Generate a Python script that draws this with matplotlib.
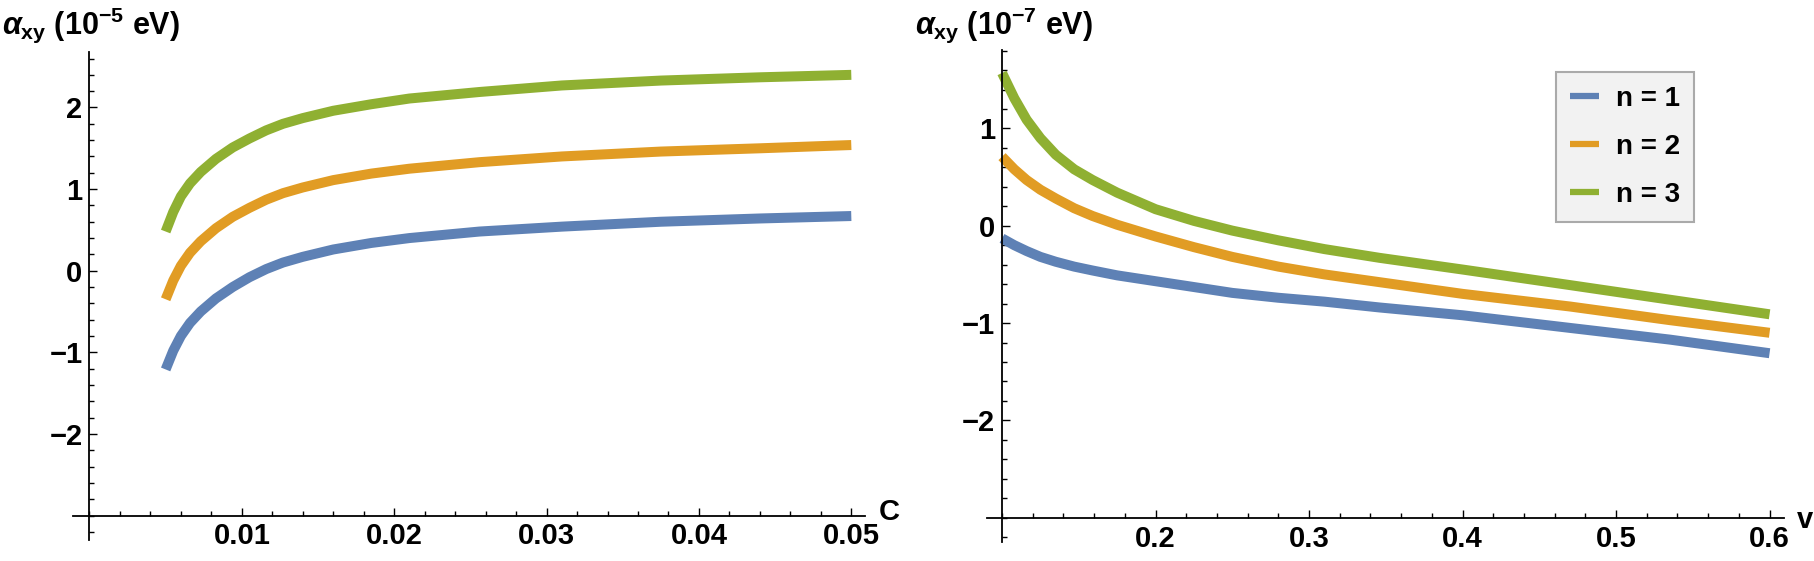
import matplotlib.pyplot as plt
from matplotlib.ticker import MultipleLocator, FixedLocator
from matplotlib.lines import Line2D

plt.rcParams['font.family'] = ['Liberation Sans', 'DejaVu Sans']
plt.rcParams['font.weight'] = 'bold'
plt.rcParams['mathtext.fontset'] = 'custom'
plt.rcParams['mathtext.rm'] = 'Liberation Sans:bold'
plt.rcParams['mathtext.it'] = 'Liberation Sans:italic:bold'
plt.rcParams['mathtext.bf'] = 'Liberation Sans:bold'

# left panel: alpha_xy (1e-5 eV) vs C
c_vals = [0.005, 0.0055, 0.006, 0.0066, 0.0073, 0.0083, 0.0094, 0.0105, 0.0116, 0.0127,
          0.014, 0.016, 0.0185, 0.021, 0.0256, 0.031, 0.0375, 0.044, 0.05]
left_n1 = [-1.21, -0.98, -0.80, -0.64, -0.50, -0.34, -0.20, -0.08, 0.02, 0.10,
           0.17, 0.26, 0.34, 0.40, 0.48, 0.54, 0.60, 0.64, 0.67]
left_n2 = [-0.35, -0.12, 0.06, 0.22, 0.36, 0.52, 0.66, 0.77, 0.87, 0.95,
           1.02, 1.11, 1.19, 1.25, 1.33, 1.40, 1.46, 1.50, 1.54]
left_n3 = [0.48, 0.72, 0.91, 1.07, 1.21, 1.37, 1.51, 1.62, 1.72, 1.80,
           1.87, 1.96, 2.04, 2.11, 2.19, 2.27, 2.33, 2.37, 2.40]

# right panel: alpha_xy (1e-7 eV) vs v
v_vals = [0.1, 0.108, 0.116, 0.125, 0.135, 0.147, 0.159, 0.175, 0.2, 0.225,
          0.25, 0.28, 0.31, 0.346, 0.4, 0.47, 0.535, 0.6]
right_n1 = [-0.13, -0.20, -0.26, -0.32, -0.37, -0.42, -0.46, -0.51, -0.57, -0.63,
            -0.69, -0.74, -0.78, -0.84, -0.92, -1.05, -1.17, -1.31]
right_n2 = [0.71, 0.58, 0.47, 0.37, 0.28, 0.18, 0.10, 0.01, -0.11, -0.22,
            -0.32, -0.42, -0.50, -0.58, -0.70, -0.83, -0.97, -1.10]
right_n3 = [1.57, 1.31, 1.09, 0.90, 0.73, 0.58, 0.47, 0.34, 0.17, 0.05,
            -0.05, -0.15, -0.24, -0.33, -0.45, -0.61, -0.76, -0.91]

labels = ['n = 1', 'n = 2', 'n = 3']
colors = ['#5E81B5', '#E19C24', '#8FB032']

left_xticks = [0.01, 0.02, 0.03, 0.04, 0.05]
right_xticks = [0.2, 0.3, 0.4, 0.5, 0.6]
left_yticks = [-2, -1, 0, 1, 2]
right_yticks = [-2, -1, 0, 1]


def fmt(v):
    s = ('%g' % v)
    return s.replace('-', '\u2212')


def style(ax, x0, xticks, xminor, yticks):
    for s in ['top', 'right']:
        ax.spines[s].set_visible(False)
    ax.spines['left'].set_position(('data', x0))
    ax.spines['bottom'].set_position(('data', -3))
    for s in ['left', 'bottom']:
        ax.spines[s].set_linewidth(1.3)
    ax.xaxis.set_major_locator(FixedLocator(xticks))
    ax.set_xticklabels([fmt(t) for t in xticks])
    ax.xaxis.set_minor_locator(MultipleLocator(xminor))
    ax.yaxis.set_major_locator(FixedLocator(yticks))
    ax.set_yticklabels([fmt(t) for t in yticks])
    ax.yaxis.set_minor_locator(MultipleLocator(0.2))
    ax.tick_params(which='both', direction='in', labelsize=21, width=1.0)
    ax.tick_params(which='major', length=6)
    ax.tick_params(which='minor', length=3.5)
    ax.tick_params(axis='x', which='major', pad=5)
    ax.tick_params(axis='y', which='major', pad=5)
    ax.patch.set_alpha(0)


fig = plt.figure(figsize=(18.15, 5.61), dpi=100)

ax1 = fig.add_axes([73 / 1815, 1 - 540 / 561, 792 / 1815, 488 / 561])
for ys, col in zip([left_n1, left_n2, left_n3], colors):
    ax1.plot(c_vals, ys, color=col, linewidth=7.2, solid_capstyle='butt', solid_joinstyle='round')
ax1.set_xlim(-0.00108, 0.0509)
ax1.set_ylim(-3.30, 2.68)
style(ax1, 0, left_xticks, 0.002, left_yticks)

ax2 = fig.add_axes([987 / 1815, 1 - 542 / 561, 797 / 1815, 492 / 561])
for ys, col in zip([right_n1, right_n2, right_n3], colors):
    ax2.plot(v_vals, ys, color=col, linewidth=7.2, solid_capstyle='butt', solid_joinstyle='round')
ax2.set_xlim(0.0902, 0.6094)
ax2.set_ylim(-3.25, 1.806)
style(ax2, 0.1, right_xticks, 0.02, right_yticks)

# axis names
fig.text(2 / 1815, 1 - 25 / 561, r'$\alpha_{\mathrm{xy}}$ (10$^{\mathrm{-5}}$ eV)', fontsize=22,
         ha='left', va='center')
fig.text(915 / 1815, 1 - 25 / 561, r'$\alpha_{\mathrm{xy}}$ (10$^{\mathrm{-7}}$ eV)', fontsize=22,
         ha='left', va='center')
fig.text(879 / 1815, 1 - 512 / 561, 'C', fontsize=21, ha='left', va='center')
fig.text(1797 / 1815, 1 - 520 / 561, 'v', fontsize=21, ha='left', va='center')

handles = [Line2D([], [], color=c, linewidth=4.5, solid_capstyle='butt') for c in colors]
leg = ax2.legend(handles, labels, loc='upper left', bbox_to_anchor=(1556 / 1815, 1 - 71.7 / 561),
                 bbox_transform=fig.transFigure, fontsize=20, frameon=True, fancybox=False,
                 edgecolor='#aaaaaa', facecolor='#f2f2f2', framealpha=1, handlelength=1.05,
                 handletextpad=0.6, borderpad=0.5, labelspacing=0.8, borderaxespad=0)
leg.get_frame().set_linewidth(1.5)

fig.savefig('out.png', dpi=100)
